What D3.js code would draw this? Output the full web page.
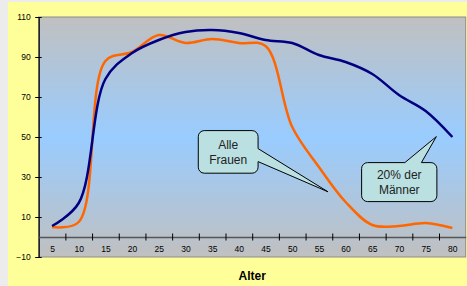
<!DOCTYPE html>
<html>
<head>
<meta charset="utf-8">
<script src="https://cdn.jsdelivr.net/npm/d3@7"></script>
<style>
  html, body { margin: 0; padding: 0; background: #ececec; }
  svg { display: block; font-family: "Liberation Sans", Arial, sans-serif; }
</style>
</head>
<body>
<svg id="chart" width="467" height="286"></svg>
<script>
// ages on the category axis
const ages = [5, 10, 15, 20, 25, 30, 35, 40, 45, 50, 55, 60, 65, 70, 75, 80];
// "Alle Frauen" (orange)
const frauen = [5, 7.5, 88, 92.5, 101, 97, 99, 97, 95.5, 55, 35, 17.5, 6, 5.5, 7, 4.5];
// "20% der Männer" (navy)
const maenner = [5.5, 17, 79, 92, 98.5, 102.5, 103.5, 102, 98.5, 97, 91, 87.5, 81.5, 71, 63, 50];
const yTicks = [-10, 10, 30, 50, 70, 90, 110];

const size = { width: 467, height: 286, left: 38.7, right: 465.7, top: 17, bottom: 257 };

const svg = d3.select("#chart");

// yellow panel
svg.append("rect")
  .attr("x", 8).attr("y", 2)
  .attr("width", size.width - 8).attr("height", size.height - 2)
  .attr("fill", "#ffff99");

const x = d3.scaleLinear()
  .domain([2.5, 82.5])
  .range([size.left, size.right]);

const y = d3.scaleLinear()
  .domain([-10, 110])
  .range([size.bottom, size.top]);

// plot area gradient: gray - light blue - gray
const grad = svg.append("defs").append("linearGradient")
  .attr("id", "bg").attr("x1", 0).attr("y1", 0).attr("x2", 0).attr("y2", 1);
grad.append("stop").attr("offset", "0%").attr("stop-color", "#c0c0c0");
grad.append("stop").attr("offset", "50%").attr("stop-color", "#99ccff");
grad.append("stop").attr("offset", "100%").attr("stop-color", "#c0c0c0");

svg.append("rect")
  .attr("x", size.left).attr("y", size.top)
  .attr("width", size.right - size.left).attr("height", size.bottom - size.top)
  .attr("fill", "url(#bg)")
  .attr("stroke", "#8c8c8c")
  .attr("stroke-width", 1);

// y axis
const yAxis = svg.append("g")
  .attr("transform", `translate(${size.left},0)`)
  .call(d3.axisLeft(y).tickValues(yTicks).tickSize(0).tickPadding(8));
yAxis.select(".domain").attr("stroke", "#000").attr("stroke-width", 1.2);
yAxis.selectAll(".tick line").attr("x1", -3.5).attr("x2", 3).attr("stroke", "#000");
yAxis.selectAll("text").attr("font-size", "8.5px").attr("fill", "#000").attr("font-family", "Liberation Sans, Arial");

// x axis line at zero, ticks between the categories
const bounds = d3.range(7.5, 80, 5);
const xAxis = svg.append("g")
  .attr("transform", `translate(0,${y(0)})`)
  .call(d3.axisBottom(x).tickValues(bounds).tickSize(0).tickFormat(""));
xAxis.select(".domain").attr("stroke", "#555").attr("stroke-width", 1.6);
xAxis.selectAll(".tick line").attr("y1", -3.5).attr("y2", 3.5).attr("stroke", "#000");

// category labels
const xLabels = svg.append("g")
  .attr("transform", `translate(0,${y(0)})`)
  .call(d3.axisBottom(x).tickValues(ages).tickSize(0).tickPadding(9));
xLabels.select(".domain").remove();
xLabels.selectAll("text").attr("font-size", "8.5px").attr("fill", "#000").attr("font-family", "Liberation Sans, Arial");

// axis title
svg.append("text")
  .attr("x", (size.left + size.right) / 2)
  .attr("y", 280)
  .attr("text-anchor", "middle")
  .attr("font-size", "12px")
  .attr("font-weight", "bold")
  .text("Alter");

// smoothed lines (centripetal, closer to Excel's smoothing)
const line = d3.line()
  .x((d, i) => x(ages[i]))
  .y(d => y(d))
  .curve(d3.curveCatmullRom.alpha(0.5));

svg.append("path")
  .datum(frauen)
  .attr("d", line)
  .attr("fill", "none")
  .attr("stroke", "#ff6600")
  .attr("stroke-width", 2.5)
  .attr("stroke-linejoin", "round");

svg.append("path")
  .datum(maenner)
  .attr("d", line)
  .attr("fill", "none")
  .attr("stroke", "#000080")
  .attr("stroke-width", 2.5)
  .attr("stroke-linejoin", "round");

// callouts (box corners and tail tip given in age / value units)
const callouts = [
  { lines: ["Alle", "Frauen"], box: [32.4, 53.2, 43.6, 31.9], tip: [56.7, 22.6], tailSide: "right", tail: [44.2, 37.7] },
  { lines: ["20% der", "Männer"], box: [63.0, 37.2, 77.1, 17.7], tip: [77.0, 50.2], tailSide: "top", tail: [71.1, 74.2] }
];

callouts.forEach(c => {
  const x0 = x(c.box[0]), y0 = y(c.box[1]), x1 = x(c.box[2]), y1 = y(c.box[3]);
  const r = 6;
  const tx = x(c.tip[0]), ty = y(c.tip[1]);
  const p = d3.path();
  p.moveTo(x0 + r, y0);
  if (c.tailSide === "top") {
    p.lineTo(x(c.tail[0]), y0);
    p.lineTo(tx, ty);
    p.lineTo(x(c.tail[1]), y0);
  }
  p.lineTo(x1 - r, y0);
  p.arcTo(x1, y0, x1, y0 + r, r);
  if (c.tailSide === "right") {
    p.lineTo(x1, y(c.tail[0]));
    p.lineTo(tx, ty);
    p.lineTo(x1, y(c.tail[1]));
  }
  p.lineTo(x1, y1 - r);
  p.arcTo(x1, y1, x1 - r, y1, r);
  p.lineTo(x0 + r, y1);
  p.arcTo(x0, y1, x0, y1 - r, r);
  p.lineTo(x0, y0 + r);
  p.arcTo(x0, y0, x0 + r, y0, r);
  p.closePath();

  svg.append("path")
    .attr("d", p.toString())
    .attr("fill", "#bae0e2")
    .attr("stroke", "#000")
    .attr("stroke-width", 1);

  const cx = (x0 + x1) / 2, cy = (y0 + y1) / 2;
  svg.append("text")
    .attr("x", cx)
    .attr("y", cy - 7.3)
    .attr("text-anchor", "middle")
    .attr("font-size", "12px")
    .attr("fill", "#222")
    .selectAll("tspan")
    .data(c.lines)
    .join("tspan")
    .attr("x", cx)
    .attr("dy", (d, i) => i === 0 ? "0.35em" : "14.7px")
    .text(d => d);
});
</script>
</body>
</html>
